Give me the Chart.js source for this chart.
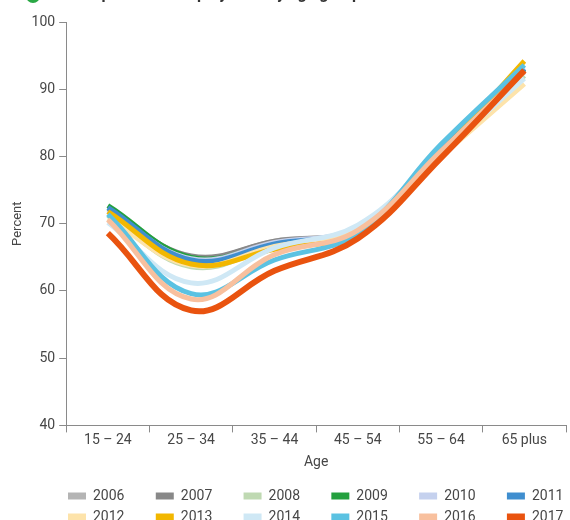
<!DOCTYPE html>
<html>
<head>
<meta charset="utf-8">
<script src="https://cdn.jsdelivr.net/npm/chart.js@4.4.0/dist/chart.umd.min.js"></script>
<style>
  html, body { margin: 0; padding: 0; background: #fff; overflow: hidden; }
  #wrap { width: 570px; height: 520px; overflow: hidden; }
</style>
</head>
<body>
<div id="wrap"><canvas id="ageChart" width="570" height="534"></canvas></div>
<script>
const ageGroups = ["15 – 24", "25 – 34", "35 – 44", "45 – 54", "55 – 64", "65 plus"]

const years = ["2006", "2007", "2008", "2009", "2010", "2011", "2012", "2013", "2014", "2015", "2016", "2017"]

const y2006 = [71.8, 65.0, 67.4, 69.4, 80.6, 92.6]
const y2007 = [72.2, 65.2, 67.4, 69.4, 81.0, 93.0]
const y2008 = [71.2, 63.6, 66.6, 69.2, 80.2, 92.0]
const y2009 = [72.7, 65.0, 67.0, 69.4, 81.0, 93.0]
const y2010 = [72.0, 64.8, 67.2, 69.6, 81.2, 93.2]
const y2011 = [72.4, 64.6, 67.0, 69.4, 81.0, 93.0]
const y2012 = [70.8, 63.8, 66.6, 69.2, 80.0, 90.8]
const y2013 = [71.8, 64.0, 66.2, 68.8, 80.6, 94.2]
const y2014 = [70.2, 61.2, 66.4, 69.8, 80.6, 91.6]
const y2015 = [71.4, 59.6, 64.6, 68.6, 81.8, 93.6]
const y2016 = [70.6, 58.8, 65.4, 69.0, 80.8, 92.6]
const y2017 = [68.6, 57.1, 63.0, 67.8, 79.8, 92.8]

const seriesValues = [y2006, y2007, y2008, y2009, y2010, y2011, y2012, y2013, y2014, y2015, y2016, y2017]

const yTicks = [40, 50, 60, 70, 80, 90, 100]

const colors = [
  "#b4b4b4", "#888888", "#bfd9b2", "#23a03e", "#c5d1ee", "#3f8ecf",
  "#fde3aa", "#f2b700", "#cfe8f5", "#5bc2e2", "#f8c09e", "#e9530f",
]

const textColor = "#474747"
const axisColor = "#8a8a8a"
const font = "Roboto, sans-serif"

// 2017 drawn on top, so build the list newest first and reverse the legend
const datasets = years.map((yr, i) => ({
  label: yr,
  data: seriesValues[i],
  borderColor: colors[i],
  backgroundColor: colors[i],
  borderWidth: yr === "2017" ? 6 : 5,
  pointRadius: 0,
  pointHoverRadius: 0,
  tension: 0.4,
  fill: false,
})).reverse()

const headerPlugin = {
  id: "header",
  beforeDraw(chart) {
    const { ctx } = chart
    // legend sits a bit right of centre in the original
    const lg = chart.legend
    if (lg) {
      const dx = 61 - lg.left
      lg.left += dx
      lg.right += dx
    }
    ctx.save()
    ctx.fillStyle = "#2aa845"
    ctx.beginPath()
    ctx.arc(33, -4, 7, 0, Math.PI * 2)
    ctx.fill()
    ctx.font = "bold 16px " + font
    ctx.fillStyle = "#333"
    ctx.textBaseline = "alphabetic"
    const pre = "Proportion in em"
    const x = 197 - ctx.measureText(pre).width
    ctx.fillText("Proportion in employment by age group", x, -1)
    ctx.restore()
  },
}

new Chart(document.getElementById("ageChart"), {
  type: "line",
  data: {
    labels: ageGroups,
    datasets: datasets,
  },
  options: {
    responsive: false,
    animation: false,
    layout: {
      padding: { top: 22, left: 5, right: 4, bottom: 0 },
    },
    plugins: {
      tooltip: { enabled: false },
      legend: {
        position: "bottom",
        align: "start",
        reverse: true,
        labels: {
          boxWidth: 18,
          boxHeight: 7,
          padding: 7,
          color: textColor,
          font: { family: font, size: 14 },
          generateLabels(chart) {
            const items = Chart.defaults.plugins.legend.labels.generateLabels(chart)
            items.forEach((it) => {
              it.text = it.text + "       "
              it.lineWidth = 0
            })
            return items
          },
        },
      },
    },
    scales: {
      x: {
        offset: true,
        grid: {
          display: true,
          offset: true,
          drawOnChartArea: false,
          tickLength: 7,
          color: axisColor,
        },
        border: { color: axisColor, width: 1 },
        ticks: {
          color: textColor,
          padding: 0,
          maxRotation: 0,
          font: { family: font, size: 14 },
        },
        title: {
          display: true,
          text: "Age",
          color: textColor,
          font: { family: font, size: 14 },
          padding: { top: 5, bottom: 11 },
        },
      },
      y: {
        min: 40,
        max: 100,
        afterBuildTicks(axis) {
          axis.ticks = yTicks.map((v) => ({ value: v }))
        },
        grid: {
          display: true,
          drawOnChartArea: false,
          tickLength: 7,
          color: axisColor,
        },
        border: { color: axisColor, width: 1 },
        ticks: {
          color: textColor,
          padding: 4,
          font: { family: font, size: 14 },
        },
        title: {
          display: true,
          text: "Percent",
          color: textColor,
          font: { family: font, size: 13 },
          padding: { top: 5, bottom: 2 },
        },
      },
    },
  },
  plugins: [headerPlugin],
})
</script>
</body>
</html>
